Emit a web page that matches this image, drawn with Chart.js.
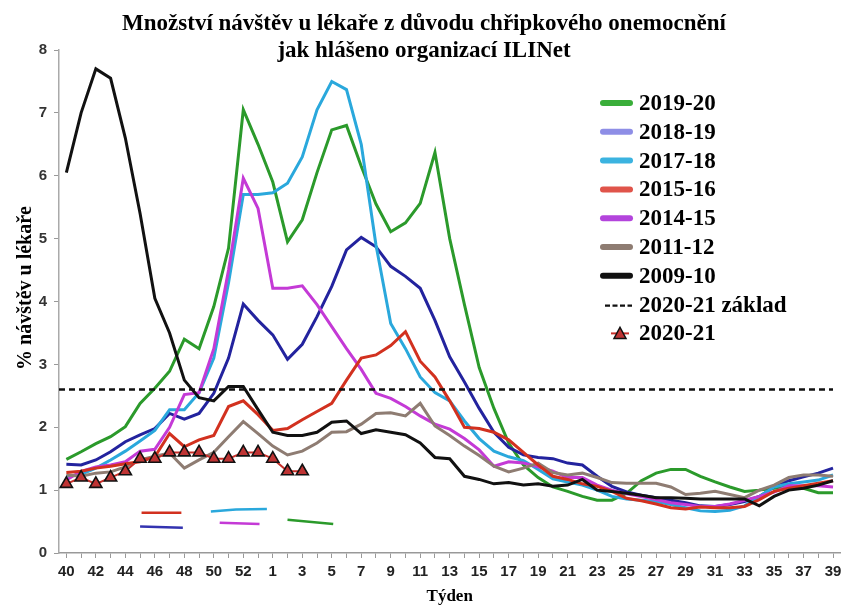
<!DOCTYPE html>
<html>
<head>
<meta charset="utf-8">
<script src="https://cdn.jsdelivr.net/npm/chart.js@4/dist/chart.umd.min.js"></script>
<style>
  html, body { margin: 0; padding: 0; background: #fff; }
</style>
</head>
<body>
<canvas id="ili" width="849" height="608"></canvas>
<script>
// week numbers on the x axis (season runs week 40 -> week 39)
const weekLabels = ['40','41','42','43','44','45','46','47','48','49','50','51','52','53',
  '1','2','3','4','5','6','7','8','9','10','11','12','13','14','15','16','17','18','19','20',
  '21','22','23','24','25','26','27','28','29','30','31','32','33','34','35','36','37','38','39'];

// % of visits for influenza-like illness, per season
const s1920 = [1.49,1.61,1.74,1.85,2.01,2.38,2.62,2.89,3.40,3.25, 3.92,4.85,7.05,6.50,5.90,4.95,5.30,6.05,6.73,6.80,
  6.15,5.55,5.11,5.25,5.56,6.37,5.00,3.95,2.95,2.30, 1.75,1.40,1.20,1.05,0.98,0.90,0.84,0.84,0.95,1.15,
  1.27,1.33,1.33,1.22,1.13,1.05,0.98,1.00,1.03,1.05, 1.03,0.96,0.96];
const s1819 = [1.41,1.40,1.48,1.61,1.77,1.88,1.98,2.22,2.13,2.22, 2.54,3.10,3.96,3.70,3.47,3.08,3.32,3.76,4.24,4.82,
  5.02,4.87,4.56,4.40,4.21,3.70,3.12,2.72,2.30,1.92, 1.68,1.56,1.52,1.50,1.43,1.40,1.22,1.06,0.97,0.92,
  0.88,0.84,0.80,0.75,0.74,0.77,0.82,0.90,1.05,1.15, 1.21,1.27,1.35];
const s1718 = [1.22,1.25,1.35,1.48,1.62,1.78,1.95,2.28,2.28,2.55, 3.10,4.30,5.70,5.70,5.73,5.88,6.30,7.05,7.50,7.37,
  6.50,4.90,3.65,3.25,2.80,2.55,2.42,2.10,1.82,1.62, 1.53,1.47,1.33,1.18,1.13,1.08,1.00,0.90,0.86,0.84,
  0.82,0.77,0.72,0.67,0.66,0.68,0.75,0.90,1.05,1.10, 1.13,1.16,1.24];
const s1516 = [1.28,1.30,1.35,1.38,1.42,1.45,1.53,1.90,1.69,1.80, 1.87,2.33,2.42,2.20,1.95,1.98,2.12,2.25,2.38,2.75,
  3.10,3.15,3.30,3.52,3.05,2.80,2.42,2.00,1.98,1.92, 1.80,1.60,1.40,1.22,1.17,1.10,1.06,0.98,0.87,0.83,
  0.78,0.72,0.70,0.73,0.72,0.72,0.74,0.85,0.98,1.03, 1.07,1.11,1.15];
const s1415 = [1.16,1.30,1.37,1.40,1.45,1.62,1.65,2.00,2.52,2.55, 3.25,4.50,5.96,5.48,4.21,4.21,4.25,3.95,3.60,3.25,
  2.92,2.54,2.46,2.33,2.18,2.05,1.97,1.82,1.64,1.38, 1.45,1.43,1.37,1.30,1.20,1.20,1.08,1.00,0.94,0.90,
  0.85,0.80,0.77,0.74,0.74,0.78,0.84,0.90,0.97,1.07, 1.07,1.07,1.05];
const s1112 = [1.24,1.22,1.27,1.29,1.37,1.48,1.54,1.59,1.35,1.48, 1.60,1.85,2.09,1.90,1.70,1.56,1.62,1.75,1.92,1.93,
  2.05,2.22,2.23,2.18,2.38,2.02,1.87,1.70,1.55,1.38, 1.29,1.35,1.43,1.28,1.24,1.27,1.20,1.12,1.11,1.11,
  1.11,1.05,0.93,0.95,0.98,0.93,0.88,1.00,1.08,1.20, 1.24,1.24,1.22];
const s0910 = [6.05,7.00,7.70,7.55,6.60,5.40,4.05,3.50,2.75,2.47, 2.42,2.65,2.65,2.28,1.92,1.87,1.87,1.92,2.08,2.10,
  1.90,1.96,1.92,1.88,1.75,1.52,1.50,1.22,1.17,1.10, 1.12,1.08,1.10,1.06,1.08,1.17,1.00,0.98,0.95,0.92,
  0.88,0.88,0.87,0.86,0.86,0.86,0.86,0.75,0.90,1.00, 1.03,1.08,1.15];
const s2021 = [1.1,1.2,1.1,1.2,1.3,1.5,1.5,1.6,1.6,1.6,1.5,1.5,1.6,1.6,1.5,1.3,1.3];
const baseline2021 = 2.6;

// leftover short strokes under the curves (x = week index, y = value)
const strayRed = [[5.1,0.64],[7.8,0.64]];
const strayBlue = [[5.0,0.42],[7.9,0.40]];
const strayCyan = [[9.8,0.66],[11.5,0.69],[13.6,0.70]];
const strayMagenta = [[10.4,0.48],[13.1,0.46]];
const strayGreen = [[15.0,0.53],[18.1,0.46]];

const toPts = arr => arr.map((v, i) => ({ x: i, y: v }));
const toXY = arr => arr.map(p => ({ x: p[0], y: p[1] }));

const SERIF = '"Liberation Serif", "Times New Roman", serif';
const SANS = '"Liberation Sans", Arial, sans-serif';

function season(label, data, color, legendColor, order) {
  return {
    label, data: toPts(data), borderColor: color, backgroundColor: color,
    borderWidth: 3, pointRadius: 0, tension: 0, order,
    legendColor: legendColor || color, legendKind: 'line'
  };
}
function stray(data, color) {
  return { data: toXY(data), borderColor: color, borderWidth: 2.5, pointRadius: 0, order: 20, noLegend: true };
}

const datasets = [
  season('2019-20', s1920, '#2b9a2b', '#3aae3a', 9),
  season('2018-19', s1819, '#23239e', '#8e8ee6', 8),
  season('2017-18', s1718, '#2aa8dc', '#3bb3e0', 7),
  season('2015-16', s1516, '#d2311f', '#e0544a', 4),
  season('2014-15', s1415, '#c43ad6', '#b344dc', 6),
  season('2011-12', s1112, '#8e7c72', '#8e7c72', 5),
  season('2009-10', s0910, '#111111', '#111111', 3),
  {
    label: '2020-21 základ',
    data: [{ x: -0.5, y: baseline2021 }, { x: weekLabels.length - 1, y: baseline2021 }],
    borderColor: '#111', borderWidth: 2.5, borderDash: [6, 4], pointRadius: 0, order: 2,
    legendColor: '#111', legendKind: 'dash'
  },
  {
    label: '2020-21', data: toPts(s2021),
    borderColor: '#c8302a', borderWidth: 2, tension: 0, order: 1,
    pointStyle: 'triangle', pointRadius: 7, pointBackgroundColor: '#bf3434',
    pointBorderColor: '#111', pointBorderWidth: 1.6,
    legendColor: '#c8302a', legendKind: 'marker'
  },
  stray(strayRed, '#d2311f'),
  stray(strayBlue, '#3333b0'),
  stray(strayCyan, '#2aa8dc'),
  stray(strayMagenta, '#c43ad6'),
  stray(strayGreen, '#2b9a2b')
];

// title, rotated y-axis label and the legend inside the plot
const overlayPlugin = {
  id: 'overlay',
  afterDraw(chart) {
    const ctx = chart.ctx;
    ctx.save();
    ctx.fillStyle = '#000';
    ctx.textAlign = 'center';
    ctx.textBaseline = 'alphabetic';
    ctx.font = 'bold 23px ' + SERIF;
    ctx.fillText('Množství návštěv u lékaře z důvodu chřipkového onemocnění', 424, 30);
    ctx.fillText('jak hlášeno organizací ILINet', 424, 57);

    ctx.save();
    ctx.translate(26, 288);
    ctx.rotate(-Math.PI / 2);
    ctx.textBaseline = 'middle';
    ctx.font = 'bold 20px ' + SERIF;
    ctx.fillText('% návštěv u lékaře', 0, 0);
    ctx.restore();

    ctx.textAlign = 'left';
    ctx.textBaseline = 'middle';
    ctx.font = 'bold 23px ' + SERIF;
    let k = 0;
    chart.data.datasets.forEach(ds => {
      if (ds.noLegend) return;
      const y = 103 + k * 28.8;
      ctx.save();
      ctx.strokeStyle = ds.legendColor;
      if (ds.legendKind === 'line') {
        ctx.lineWidth = 6;
        ctx.lineCap = 'round';
        ctx.beginPath(); ctx.moveTo(603, y); ctx.lineTo(630, y); ctx.stroke();
      } else if (ds.legendKind === 'dash') {
        ctx.lineWidth = 2.2;
        ctx.setLineDash([5, 2.5]);
        ctx.beginPath(); ctx.moveTo(605, y + 1); ctx.lineTo(632, y + 1); ctx.stroke();
      } else {
        ctx.lineWidth = 2;
        ctx.beginPath(); ctx.moveTo(611, y); ctx.lineTo(629, y); ctx.stroke();
        ctx.fillStyle = ds.pointBackgroundColor;
        ctx.strokeStyle = '#111';
        ctx.lineWidth = 1.5;
        ctx.beginPath();
        ctx.moveTo(620, y - 6); ctx.lineTo(626, y + 5); ctx.lineTo(614, y + 5); ctx.closePath();
        ctx.fill(); ctx.stroke();
      }
      ctx.restore();
      ctx.fillStyle = '#000';
      ctx.fillText(ds.label, 639, y + 1);
      k++;
    });
    ctx.restore();
  }
};

new Chart(document.getElementById('ili'), {
  type: 'line',
  data: { datasets },
  options: {
    responsive: false,
    animation: false,
    layout: { padding: { top: 50, right: 3, left: 0, bottom: 0 } },
    plugins: { legend: { display: false }, tooltip: { enabled: false } },
    scales: {
      x: {
        type: 'linear', min: -0.5, max: weekLabels.length - 0.5,
        afterBuildTicks: s => { s.ticks = weekLabels.map((_, i) => ({ value: i })); },
        ticks: {
          autoSkip: false, maxRotation: 0, padding: 5, color: '#222',
          font: { family: SANS, size: 15, weight: 'bold' },
          callback: v => (v % 2 === 0 ? weekLabels[v] : '')
        },
        grid: { drawOnChartArea: false, tickLength: 5, color: '#999' },
        border: { color: '#999', width: 1.5 },
        title: { display: true, text: 'Týden', color: '#000', padding: { top: 0, bottom: 1 },
          font: { family: SERIF, size: 17, weight: 'bold' } },
        afterFit: s => { s.height = 55; }
      },
      y: {
        min: 0, max: 8,
        ticks: { stepSize: 1, padding: 7, color: '#333', font: { family: SANS, size: 15, weight: 'bold' } },
        grid: { drawOnChartArea: false, tickLength: 5, color: '#999' },
        border: { color: '#aaa', width: 1.5, dash: [2, 1] },
        afterFit: s => { s.width = 59; }
      }
    }
  },
  plugins: [overlayPlugin]
});
</script>
</body>
</html>
